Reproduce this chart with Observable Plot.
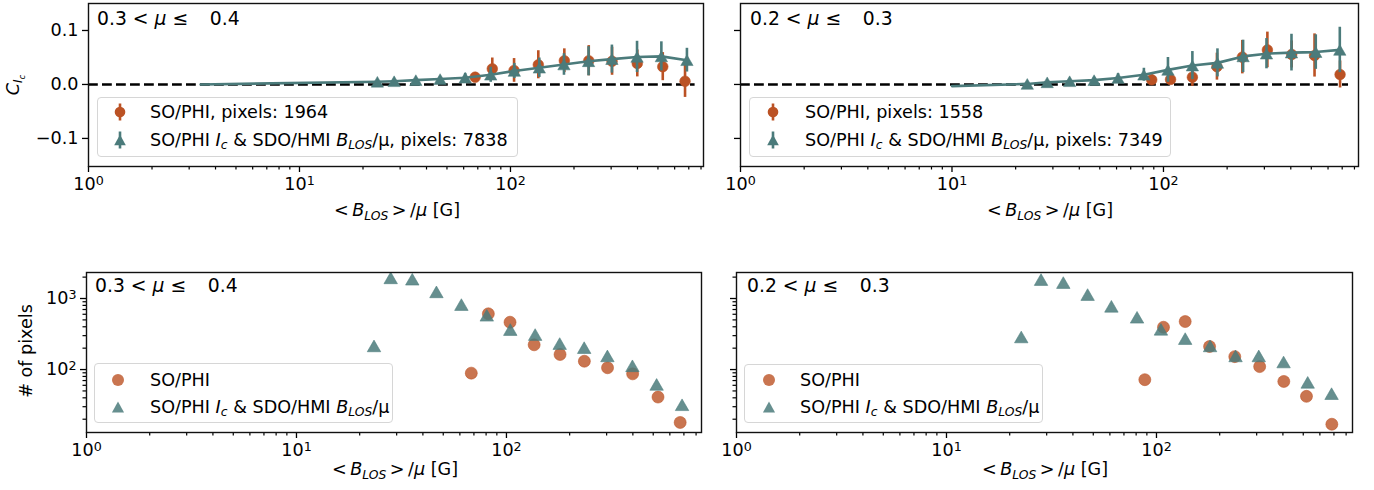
<!DOCTYPE html>
<html><head><meta charset="utf-8">
<script src="https://cdn.jsdelivr.net/npm/d3@7"></script>
<script src="https://cdn.jsdelivr.net/npm/@observablehq/plot@0.6"></script>
<style>
body{margin:0;background:#fff;}
#root{position:relative;width:1374px;height:490px;overflow:hidden;font-family:"DejaVu Sans",sans-serif;color:#000;background:#fff;}
.pan{position:absolute;}
.t{position:absolute;white-space:nowrap;line-height:1;}
.t sub{font-size:70%;vertical-align:baseline;position:relative;top:0.28em;}
.leg{position:absolute;border:1.3px solid #d6d6d6;border-radius:4px;background:rgba(255,255,255,0.8);box-sizing:border-box;}
.sw{position:absolute;overflow:visible;}
</style></head><body><div id="root"></div>
<script>
// ---------- data ----------
// mu bin 0.3 < mu <= 0.4
const phiX_34   = [68, 82, 104, 135.5, 180, 235, 303, 399, 527, 672];
const phiC_34   = [0.0135, 0.029, 0.026, 0.0365, 0.044, 0.044, 0.043, 0.039, 0.033, 0.006];
const phiErr_34 = [0.008, 0.02, 0.022, 0.026, 0.022, 0.028, 0.026, 0.025, 0.026, 0.03];
const phiN_34   = [89, 609, 464, 223, 163, 131, 106, 87, 41, 18];
const hmiX_34   = [23.4, 28.1, 35.6, 46.4, 61, 80.6, 104.3, 137, 179.3, 234.5, 302.5, 398, 519, 686];
const hmiC_34   = [0.005, 0.006, 0.008, 0.010, 0.0125, 0.018, 0.025, 0.031, 0.037, 0.043, 0.047, 0.051, 0.052, 0.045];
const hmiErr_34 = [0.002, 0.002, 0.003, 0.004, 0.008, 0.014, 0.014, 0.018, 0.02, 0.027, 0.026, 0.029, 0.027, 0.022];
const hmiN_34   = [202, 1833, 1754, 1164, 771, 545, 343, 292, 218, 191, 146, 106, 58, 30];
const hmiLead_34 = [3.4, 0.0];
// mu bin 0.2 < mu <= 0.3
const phiX_23   = [88, 108, 137, 179, 236, 310, 404, 518, 684];
const phiC_23   = [0.0087, 0.0093, 0.0135, 0.033, 0.0506, 0.064, 0.0556, 0.0537, 0.0185];
const phiErr_23 = [0.009, 0.008, 0.017, 0.025, 0.031, 0.033, 0.025, 0.04, 0.025];
const phiN_23   = [72, 394, 474, 211, 152, 110, 68, 42, 17];
const hmiX_23   = [22.7, 28.2, 36, 47, 61, 80.8, 105, 137, 180, 238, 307, 403, 525, 682];
const hmiC_23   = [0.001, 0.004, 0.006, 0.008, 0.012, 0.018, 0.027, 0.035, 0.04, 0.052, 0.057, 0.059, 0.06, 0.064];
const hmiErr_23 = [0.002, 0.002, 0.003, 0.005, 0.008, 0.012, 0.023, 0.026, 0.026, 0.03, 0.028, 0.034, 0.032, 0.042];
const hmiN_23   = [270, 1734, 1574, 1067, 729, 511, 346, 256, 202, 146, 146, 120, 62, 43];
const hmiLead_23 = [10, -0.003];

const muLabels = ["0.3 &lt; <i>μ</i> ≤&nbsp;&nbsp;&thinsp; 0.4", "0.2 &lt; <i>μ</i> ≤&nbsp;&nbsp;&thinsp; 0.3"];
const pixelTotals = {phi34: 1964, hmi34: 7838, phi23: 1558, hmi23: 7349};
const zeroLineX = [1, 750];
const majorX = [1, 10, 100];
const minorX = [2,3,4,5,6,7,8,9,20,30,40,50,60,70,80,90,200,300,400,500,600,700,800];
const corrTicks = [-0.1, 0, 0.1];
const majorN = [100, 1000];
const minorN = [20,30,40,50,60,70,80,90,200,300,400,500,600,700,800,900,2000];

// ---------- styling ----------
const ORANGE = "#bb5224";
const TEAL = "#4b7b7b";
const FS = 17.6;
const root = document.getElementById("root");
const fmtPow = d => "10^" + Math.round(Math.log10(d));
const fmtCorr = d => (d < 0 ? "−" : "") + Math.abs(d).toFixed(1);
const zip = (xs, ys, es) => xs.map((x, i) => ({x, y: ys[i], e: es ? es[i] : 0}));
const style = {background: "transparent", fontFamily: "DejaVu Sans", fontSize: FS + "px", color: "#000", overflow: "visible"};

// turn "10^n" tick labels into 10 with a real superscript
function superscripts(svg) {
  svg.querySelectorAll("text").forEach(t => {
    const m = /^10\^(\d)$/.exec(t.textContent);
    if (m) {
      t.textContent = "10";
      const ts = document.createElementNS("http://www.w3.org/2000/svg", "tspan");
      ts.setAttribute("dy", "-0.42em");
      ts.setAttribute("font-size", "0.72em");
      ts.textContent = m[1];
      t.appendChild(ts);
    }
  });
  return svg;
}

function xAxes() {
  return [
    Plot.axisX({ticks: minorX, tickSize: 3.5, tickFormat: () => "", strokeWidth: 1.2, label: null}),
    Plot.axisX({ticks: majorX, tickSize: 6, tickPadding: 5, tickFormat: fmtPow, strokeWidth: 1.3, label: null, fontSize: FS})
  ];
}

function topPanel(phi, hmi, lead, xmax, showY) {
  const line = [{x: lead[0], y: lead[1]}, ...hmi];
  return superscripts(Plot.plot({
    width: showY ? 720 : 654, height: 240,
    marginLeft: showY ? 88 : 20, marginRight: showY ? 17 : 16, marginTop: 3, marginBottom: 74,
    style,
    x: {type: "log", domain: [1, xmax], label: null},
    y: {domain: [-0.152, 0.15], label: null},
    marks: [
      ...xAxes(),
      Plot.axisY({ticks: corrTicks, tickSize: 6, tickPadding: 4, tickFormat: showY ? fmtCorr : () => "", strokeWidth: 1.3, label: null, fontSize: FS}),
      Plot.ruleY([{y: 0, x1: zeroLineX[0], x2: zeroLineX[1]}], {y: "y", x1: "x1", x2: "x2", stroke: "#000", strokeWidth: 2.6, strokeDasharray: "9.8,4.2"}),
      Plot.ruleX(phi, {x: "x", y1: d => d.y - d.e, y2: d => d.y + d.e, stroke: ORANGE, strokeWidth: 2.6}),
      Plot.dot(phi, {x: "x", y: "y", r: 5.3, fill: ORANGE, stroke: ORANGE, strokeWidth: 0.6}),
      Plot.line(line, {x: "x", y: "y", stroke: TEAL, strokeWidth: 2.6}),
      Plot.ruleX(hmi, {x: "x", y1: d => d.y - d.e, y2: d => d.y + d.e, stroke: TEAL, strokeWidth: 2.6}),
      Plot.dot(hmi, {x: "x", y: "y", r: 4.6, symbol: "triangle", fill: TEAL, stroke: TEAL, strokeWidth: 0.5, dy: 1.8}),
      Plot.frame({stroke: "#111", strokeWidth: 1.4})
    ]
  }));
}

function bottomPanel(phi, hmi, xmax, showY) {
  return superscripts(Plot.plot({
    width: showY ? 720 : 654, height: 245,
    marginLeft: showY ? 86 : 16, marginRight: showY ? 19 : 22, marginTop: 27, marginBottom: 58,
    style,
    x: {type: "log", domain: [1, xmax], label: null},
    y: {type: "log", domain: [13, 2323], label: null},
    marks: [
      ...xAxes(),
      Plot.axisY({ticks: minorN, tickSize: 3.5, tickFormat: () => "", strokeWidth: 1.2, label: null}),
      Plot.axisY({ticks: majorN, tickSize: 6, tickPadding: 4, tickFormat: showY ? fmtPow : () => "", strokeWidth: 1.3, label: null, fontSize: FS}),
      Plot.dot(phi, {x: "x", y: "y", r: 6, fill: ORANGE, fillOpacity: 0.8, stroke: ORANGE, strokeOpacity: 0.55, strokeWidth: 1}),
      Plot.dot(hmi, {x: "x", y: "y", r: 5, symbol: "triangle", fill: TEAL, fillOpacity: 0.85, stroke: TEAL, strokeOpacity: 0.55, strokeWidth: 1}),
      Plot.frame({stroke: "#111", strokeWidth: 1.4})
    ]
  }));
}

function place(el, left, top) {
  const d = document.createElement("div");
  d.className = "pan"; d.style.left = left + "px"; d.style.top = top + "px";
  d.appendChild(el); root.appendChild(d);
}
function addText(html, x, baseline, fs, anchor) {
  const d = document.createElement("div");
  d.className = "t"; d.innerHTML = html; d.style.fontSize = fs + "px";
  d.style.top = (baseline - 0.846 * fs) + "px"; d.style.left = x + "px";
  if (anchor === "middle") d.style.transform = "translateX(-50%)";
  root.appendChild(d);
}
function addRotated(html, cx, cy, fs) {
  const d = document.createElement("div");
  d.className = "t"; d.innerHTML = html; d.style.fontSize = fs + "px";
  d.style.left = cx + "px"; d.style.top = cy + "px";
  d.style.transform = "translate(-50%,-50%) rotate(-90deg)";
  root.appendChild(d);
}
function swatch(kind, cx, cy, errbar, faded) {
  const ns = "http://www.w3.org/2000/svg";
  const s = document.createElementNS(ns, "svg");
  s.setAttribute("class", "sw"); s.setAttribute("width", 30); s.setAttribute("height", 30);
  s.style.left = (cx - 15) + "px"; s.style.top = (cy - 15) + "px";
  const col = kind === "circle" ? ORANGE : TEAL;
  let g = "";
  if (errbar) g += `<line x1="15" x2="15" y1="6.5" y2="23.5" stroke="${col}" stroke-width="2.6"/>`;
  if (kind === "circle") g += `<circle cx="15" cy="15" r="${faded ? 6 : 5.3}" fill="${col}" fill-opacity="${faded ? 0.8 : 1}"/>`;
  else {
    const h = faded ? 11 : 10.6, w = h * 1.1;
    g += `<path d="M15,${15 - h / 2}L${15 + w / 2},${15 + h / 2}L${15 - w / 2},${15 + h / 2}Z" fill="${col}" fill-opacity="${faded ? 0.85 : 1}"/>`;
  }
  s.innerHTML = g;
  root.appendChild(s);
}
function legend(box, rows, markerX, textX, y1, y2, errbar, faded) {
  const d = document.createElement("div");
  d.className = "leg";
  d.style.left = box[0] + "px"; d.style.top = box[1] + "px";
  d.style.width = (box[2] - box[0]) + "px"; d.style.height = (box[3] - box[1]) + "px";
  root.appendChild(d);
  swatch("circle", markerX, y1, errbar, faded);
  swatch("triangle", markerX, y2, errbar, faded);
  addText(rows[0], textX, y1 + 6.4, FS);
  addText(rows[1], textX, y2 + 6.4, FS);
}

// ---------- panels ----------
place(topPanel(zip(phiX_34, phiC_34, phiErr_34), zip(hmiX_34, hmiC_34, hmiErr_34), hmiLead_34, 822, true), 0, 0);
place(topPanel(zip(phiX_23, phiC_23, phiErr_23), zip(hmiX_23, hmiC_23, hmiErr_23), hmiLead_23, 836, false), 720, 0);
place(bottomPanel(zip(phiX_34, phiN_34), zip(hmiX_34, hmiN_34), 849, true), 0, 245);
place(bottomPanel(zip(phiX_23, phiN_23), zip(hmiX_23, hmiN_23), 858, false), 720, 245);

// ---------- texts ----------
const xlab = "&lt;&thinsp;<i>B</i><sub><i>LOS</i></sub>&thinsp;&gt;&thinsp;/<i>μ</i> [G]";
const hmiName = "SO/PHI <i>I</i><sub><i>c</i></sub> &amp; SDO/HMI <i>B</i><sub><i>LOS</i></sub>/μ";
addText(muLabels[0], 97, 25.5, 18.8);
addText(muLabels[1], 750, 25.5, 18.8);
addText(muLabels[0], 95, 293, 18.8);
addText(muLabels[1], 747, 293, 18.8);
addText(xlab, 397, 217, FS, "middle");
addText(xlab, 1050, 217, FS, "middle");
addText(xlab, 395, 476, FS, "middle");
addText(xlab, 1045, 476, FS, "middle");
addRotated("<i>C</i><sub><i>I</i><sub><i>c</i></sub></sub>", 14, 85, FS);
addRotated("# of pixels", 27, 351, FS);

legend([97, 97, 518, 157], ["SO/PHI, pixels: " + pixelTotals.phi34, hmiName + ", pixels: " + pixelTotals.hmi34], 120, 150, 112, 140, true, false);
legend([749, 97, 1171, 157], ["SO/PHI, pixels: " + pixelTotals.phi23, hmiName + ", pixels: " + pixelTotals.hmi23], 773, 805, 112, 140, true, false);
legend([94, 363, 393, 423], ["SO/PHI", hmiName], 118, 150, 380, 407, false, true);
legend([744, 364, 1043, 423], ["SO/PHI", hmiName], 769, 800, 380, 407, false, true);
</script></body></html>
